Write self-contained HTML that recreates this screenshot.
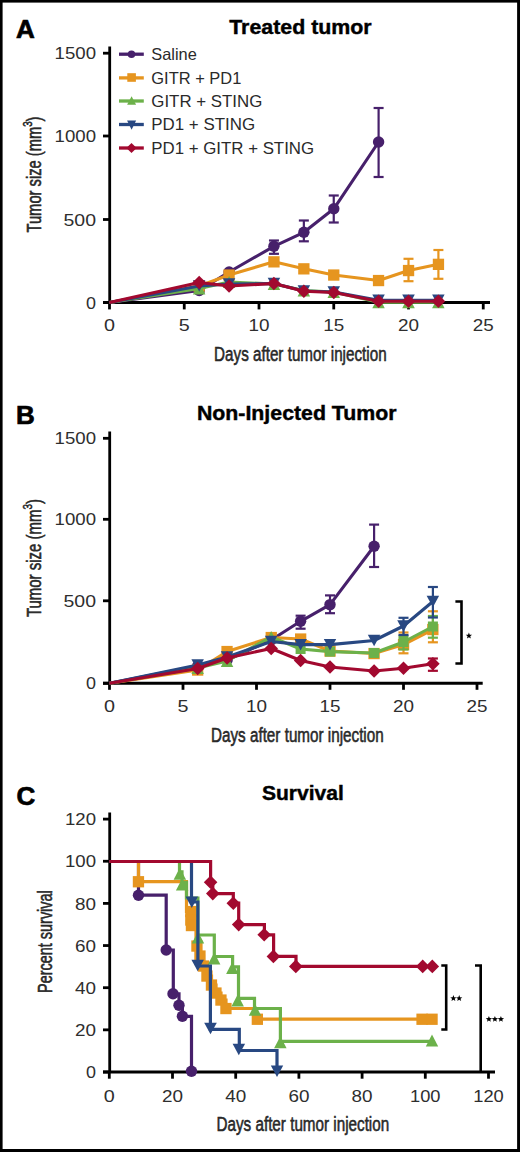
<!DOCTYPE html>
<html><head><meta charset="utf-8"><style>
html,body{margin:0;padding:0;background:#fff;}
svg{display:block;font-family:"Liberation Sans", sans-serif;}
</style></head><body>
<svg width="520" height="1152" viewBox="0 0 520 1152">
<rect x="0" y="0" width="520" height="1152" fill="#000"/>
<rect x="2.6" y="2.6" width="514.5" height="1146.4" fill="#fff"/>
<text x="16" y="37.6" font-size="26" text-anchor="start" font-weight="bold" fill="#000" stroke="#000" stroke-width="0.7">A</text>
<text x="229.2" y="34" font-size="19.5" text-anchor="start" font-weight="bold" fill="#000" textLength="142.5" lengthAdjust="spacingAndGlyphs" stroke="#000" stroke-width="0.4">Treated tumor</text>
<line x1="109.7" y1="46.5" x2="109.7" y2="303.5" stroke="#000" stroke-width="2.8"/>
<line x1="103" y1="302.5" x2="490" y2="302.5" stroke="#000" stroke-width="2.8"/>
<line x1="103" y1="53.2" x2="109.7" y2="53.2" stroke="#000" stroke-width="2.8"/>
<text x="96" y="59.300000000000004" font-size="17" text-anchor="end" font-weight="normal" fill="#2e2e2e" textLength="41.4" lengthAdjust="spacingAndGlyphs" >1500</text>
<line x1="103" y1="136" x2="109.7" y2="136" stroke="#000" stroke-width="2.8"/>
<text x="96" y="142.1" font-size="17" text-anchor="end" font-weight="normal" fill="#2e2e2e" textLength="41.4" lengthAdjust="spacingAndGlyphs" >1000</text>
<line x1="103" y1="219.5" x2="109.7" y2="219.5" stroke="#000" stroke-width="2.8"/>
<text x="96" y="225.6" font-size="17" text-anchor="end" font-weight="normal" fill="#2e2e2e" textLength="32.5" lengthAdjust="spacingAndGlyphs" >500</text>
<line x1="103" y1="302.5" x2="109.7" y2="302.5" stroke="#000" stroke-width="2.8"/>
<text x="96" y="308.6" font-size="17" text-anchor="end" font-weight="normal" fill="#2e2e2e" textLength="10" lengthAdjust="spacingAndGlyphs" >0</text>
<line x1="109.5" y1="302.5" x2="109.5" y2="309.4" stroke="#000" stroke-width="2.8"/>
<text x="109.5" y="331.3" font-size="17" text-anchor="middle" font-weight="normal" fill="#2e2e2e" textLength="11" lengthAdjust="spacingAndGlyphs" >0</text>
<line x1="184.25" y1="302.5" x2="184.25" y2="309.4" stroke="#000" stroke-width="2.8"/>
<text x="184.25" y="331.3" font-size="17" text-anchor="middle" font-weight="normal" fill="#2e2e2e" textLength="11" lengthAdjust="spacingAndGlyphs" >5</text>
<line x1="259.0" y1="302.5" x2="259.0" y2="309.4" stroke="#000" stroke-width="2.8"/>
<text x="259.0" y="331.3" font-size="17" text-anchor="middle" font-weight="normal" fill="#2e2e2e" textLength="21" lengthAdjust="spacingAndGlyphs" >10</text>
<line x1="333.75" y1="302.5" x2="333.75" y2="309.4" stroke="#000" stroke-width="2.8"/>
<text x="333.75" y="331.3" font-size="17" text-anchor="middle" font-weight="normal" fill="#2e2e2e" textLength="21" lengthAdjust="spacingAndGlyphs" >15</text>
<line x1="408.5" y1="302.5" x2="408.5" y2="309.4" stroke="#000" stroke-width="2.8"/>
<text x="408.5" y="331.3" font-size="17" text-anchor="middle" font-weight="normal" fill="#2e2e2e" textLength="21" lengthAdjust="spacingAndGlyphs" >20</text>
<line x1="483.25" y1="302.5" x2="483.25" y2="309.4" stroke="#000" stroke-width="2.8"/>
<text x="483.25" y="331.3" font-size="17" text-anchor="middle" font-weight="normal" fill="#2e2e2e" textLength="21" lengthAdjust="spacingAndGlyphs" >25</text>
<text x="214.1" y="360.6" font-size="20" text-anchor="start" font-weight="normal" fill="#2e2e2e" textLength="172.5" lengthAdjust="spacingAndGlyphs" stroke="#1c1c1c" stroke-width="0.55">Days after tumor injection</text>
<g transform="translate(41.4,232.5) rotate(-90)">
<text x="0" y="0" font-size="20.5" text-anchor="start" font-weight="normal" fill="#2e2e2e" textLength="116" lengthAdjust="spacingAndGlyphs" stroke="#1c1c1c" stroke-width="0.55">Tumor size (mm<tspan dy="-9" font-size="13.5">3</tspan><tspan dy="9">)</tspan></text>
</g>
<line x1="119" y1="54.2" x2="143.8" y2="54.2" stroke="#47206b" stroke-width="3.3"/>
<circle cx="131.5" cy="54.2" r="3.8" fill="#47206b"/>
<text x="151.3" y="60.1" font-size="16.5" text-anchor="start" font-weight="normal" fill="#2a2a2a" textLength="45.5" lengthAdjust="spacingAndGlyphs" >Saline</text>
<line x1="119" y1="77.9" x2="143.8" y2="77.9" stroke="#e6951f" stroke-width="3.3"/>
<rect x="127.3" y="73.2" width="8.6" height="8.6" fill="#e6951f"/>
<text x="151.3" y="83.80000000000001" font-size="16.5" text-anchor="start" font-weight="normal" fill="#2a2a2a" textLength="90" lengthAdjust="spacingAndGlyphs" >GITR + PD1</text>
<line x1="119" y1="101" x2="143.8" y2="101" stroke="#6cb14a" stroke-width="3.3"/>
<polygon points="127.1,104.7 136.1,104.7 131.6,96.2" fill="#6cb14a"/>
<text x="151.3" y="106.9" font-size="16.5" text-anchor="start" font-weight="normal" fill="#2a2a2a" textLength="111" lengthAdjust="spacingAndGlyphs" >GITR + STING</text>
<line x1="119" y1="124.5" x2="143.8" y2="124.5" stroke="#284882" stroke-width="3.3"/>
<polygon points="127.1,120.4 136.1,120.4 131.6,129.8" fill="#284882"/>
<text x="151.3" y="130.4" font-size="16.5" text-anchor="start" font-weight="normal" fill="#2a2a2a" textLength="103.8" lengthAdjust="spacingAndGlyphs" >PD1 + STING</text>
<line x1="119" y1="148" x2="143.8" y2="148" stroke="#a2092f" stroke-width="3.3"/>
<polygon points="131.5,142.9 136.6,148.0 131.5,153.1 126.4,148.0" fill="#a2092f"/>
<text x="151.3" y="153.9" font-size="16.5" text-anchor="start" font-weight="normal" fill="#2a2a2a" textLength="162.8" lengthAdjust="spacingAndGlyphs" >PD1 + GITR + STING</text>
<line x1="273.95" y1="240.5" x2="273.95" y2="253.8" stroke="#47206b" stroke-width="2.2"/>
<line x1="268.95" y1="240.5" x2="278.95" y2="240.5" stroke="#47206b" stroke-width="2.2"/>
<line x1="268.95" y1="253.8" x2="278.95" y2="253.8" stroke="#47206b" stroke-width="2.2"/>
<line x1="303.85" y1="220.5" x2="303.85" y2="241.3" stroke="#47206b" stroke-width="2.2"/>
<line x1="298.85" y1="220.5" x2="308.85" y2="220.5" stroke="#47206b" stroke-width="2.2"/>
<line x1="298.85" y1="241.3" x2="308.85" y2="241.3" stroke="#47206b" stroke-width="2.2"/>
<line x1="333.75" y1="195.5" x2="333.75" y2="222.5" stroke="#47206b" stroke-width="2.2"/>
<line x1="328.75" y1="195.5" x2="338.75" y2="195.5" stroke="#47206b" stroke-width="2.2"/>
<line x1="328.75" y1="222.5" x2="338.75" y2="222.5" stroke="#47206b" stroke-width="2.2"/>
<line x1="378.59999999999997" y1="108" x2="378.59999999999997" y2="177" stroke="#47206b" stroke-width="2.2"/>
<line x1="373.59999999999997" y1="108" x2="383.59999999999997" y2="108" stroke="#47206b" stroke-width="2.2"/>
<line x1="373.59999999999997" y1="177" x2="383.59999999999997" y2="177" stroke="#47206b" stroke-width="2.2"/>
<polyline points="109.5,302.5 199.2,290.5 229.1,272.0 273.9,246.3 303.9,232.3 333.8,208.8 378.6,142.0" fill="none" stroke="#47206b" stroke-width="3.1" stroke-linejoin="round"/>
<circle cx="199.2" cy="290.5" r="5.7" fill="#47206b"/>
<circle cx="229.1" cy="272.0" r="5.7" fill="#47206b"/>
<circle cx="273.9" cy="246.3" r="5.7" fill="#47206b"/>
<circle cx="303.9" cy="232.3" r="5.7" fill="#47206b"/>
<circle cx="333.8" cy="208.8" r="5.7" fill="#47206b"/>
<circle cx="378.6" cy="142.0" r="5.7" fill="#47206b"/>
<line x1="408.5" y1="258.8" x2="408.5" y2="281.2" stroke="#e6951f" stroke-width="2.2"/>
<line x1="403.5" y1="258.8" x2="413.5" y2="258.8" stroke="#e6951f" stroke-width="2.2"/>
<line x1="403.5" y1="281.2" x2="413.5" y2="281.2" stroke="#e6951f" stroke-width="2.2"/>
<line x1="438.4" y1="250" x2="438.4" y2="278.8" stroke="#e6951f" stroke-width="2.2"/>
<line x1="433.4" y1="250" x2="443.4" y2="250" stroke="#e6951f" stroke-width="2.2"/>
<line x1="433.4" y1="278.8" x2="443.4" y2="278.8" stroke="#e6951f" stroke-width="2.2"/>
<polyline points="109.5,302.5 199.2,286.0 229.1,275.0 273.9,261.8 303.9,268.8 333.8,275.0 378.6,280.5 408.5,270.5 438.4,264.3" fill="none" stroke="#e6951f" stroke-width="3.1" stroke-linejoin="round"/>
<rect x="193.5" y="280.4" width="11.3" height="11.3" fill="#e6951f"/>
<rect x="223.4" y="269.4" width="11.3" height="11.3" fill="#e6951f"/>
<rect x="268.3" y="256.2" width="11.3" height="11.3" fill="#e6951f"/>
<rect x="298.2" y="263.2" width="11.3" height="11.3" fill="#e6951f"/>
<rect x="328.1" y="269.4" width="11.3" height="11.3" fill="#e6951f"/>
<rect x="372.9" y="274.9" width="11.3" height="11.3" fill="#e6951f"/>
<rect x="402.9" y="264.9" width="11.3" height="11.3" fill="#e6951f"/>
<rect x="432.8" y="258.7" width="11.3" height="11.3" fill="#e6951f"/>
<polyline points="109.5,302.5 199.2,288.5 229.1,282.0 273.9,284.0 303.9,290.5 333.8,292.0 378.6,302.3 408.5,302.3 438.4,302.3" fill="none" stroke="#6cb14a" stroke-width="3.1" stroke-linejoin="round"/>
<polygon points="192.9,294.5 205.4,294.5 199.2,282.5" fill="#6cb14a"/>
<polygon points="222.8,288.0 235.3,288.0 229.1,276.0" fill="#6cb14a"/>
<polygon points="267.7,290.0 280.2,290.0 273.9,278.0" fill="#6cb14a"/>
<polygon points="297.6,296.5 310.1,296.5 303.9,284.5" fill="#6cb14a"/>
<polygon points="327.5,298.0 340.0,298.0 333.8,286.0" fill="#6cb14a"/>
<polygon points="372.3,308.3 384.8,308.3 378.6,296.3" fill="#6cb14a"/>
<polygon points="402.2,308.3 414.8,308.3 408.5,296.3" fill="#6cb14a"/>
<polygon points="432.1,308.3 444.6,308.3 438.4,296.3" fill="#6cb14a"/>
<polyline points="109.5,302.5 199.2,286.0 229.1,284.0 273.9,283.5 303.9,291.0 333.8,292.0 378.6,300.3 408.5,300.3 438.4,300.3" fill="none" stroke="#284882" stroke-width="3.1" stroke-linejoin="round"/>
<polygon points="192.9,280.2 205.4,280.2 199.2,291.8" fill="#284882"/>
<polygon points="222.8,278.2 235.3,278.2 229.1,289.8" fill="#284882"/>
<polygon points="267.7,277.8 280.2,277.8 273.9,289.2" fill="#284882"/>
<polygon points="297.6,285.2 310.1,285.2 303.9,296.8" fill="#284882"/>
<polygon points="327.5,286.2 340.0,286.2 333.8,297.8" fill="#284882"/>
<polygon points="372.3,294.6 384.8,294.6 378.6,306.1" fill="#284882"/>
<polygon points="402.2,294.6 414.8,294.6 408.5,306.1" fill="#284882"/>
<polygon points="432.1,294.6 444.6,294.6 438.4,306.1" fill="#284882"/>
<polyline points="109.5,302.5 199.2,282.5 229.1,286.0 273.9,283.5 303.9,291.3 333.8,292.5 378.6,301.3 408.5,301.3 438.4,301.3" fill="none" stroke="#a2092f" stroke-width="3.1" stroke-linejoin="round"/>
<polygon points="199.2,275.7 206.0,282.5 199.2,289.3 192.4,282.5" fill="#a2092f"/>
<polygon points="229.1,279.2 235.9,286.0 229.1,292.8 222.3,286.0" fill="#a2092f"/>
<polygon points="273.9,276.7 280.8,283.5 273.9,290.3 267.1,283.5" fill="#a2092f"/>
<polygon points="303.9,284.5 310.7,291.3 303.9,298.1 297.1,291.3" fill="#a2092f"/>
<polygon points="333.8,285.7 340.6,292.5 333.8,299.3 326.9,292.5" fill="#a2092f"/>
<polygon points="378.6,294.5 385.4,301.3 378.6,308.1 371.8,301.3" fill="#a2092f"/>
<polygon points="408.5,294.5 415.3,301.3 408.5,308.1 401.7,301.3" fill="#a2092f"/>
<polygon points="438.4,294.5 445.2,301.3 438.4,308.1 431.6,301.3" fill="#a2092f"/>
<text x="15.9" y="423.6" font-size="26" text-anchor="start" font-weight="bold" fill="#000" stroke="#000" stroke-width="0.7">B</text>
<text x="196.9" y="420.4" font-size="19.5" text-anchor="start" font-weight="bold" fill="#000" textLength="199.7" lengthAdjust="spacingAndGlyphs" stroke="#000" stroke-width="0.4">Non-Injected Tumor</text>
<line x1="109.7" y1="431.5" x2="109.7" y2="684.3" stroke="#000" stroke-width="2.8"/>
<line x1="103" y1="683.25" x2="482.7" y2="683.25" stroke="#000" stroke-width="2.8"/>
<line x1="103" y1="438.3" x2="109.7" y2="438.3" stroke="#000" stroke-width="2.8"/>
<text x="96" y="444.40000000000003" font-size="17" text-anchor="end" font-weight="normal" fill="#2e2e2e" textLength="41.4" lengthAdjust="spacingAndGlyphs" >1500</text>
<line x1="103" y1="519.3" x2="109.7" y2="519.3" stroke="#000" stroke-width="2.8"/>
<text x="96" y="525.4" font-size="17" text-anchor="end" font-weight="normal" fill="#2e2e2e" textLength="41.4" lengthAdjust="spacingAndGlyphs" >1000</text>
<line x1="103" y1="600.8" x2="109.7" y2="600.8" stroke="#000" stroke-width="2.8"/>
<text x="96" y="606.9" font-size="17" text-anchor="end" font-weight="normal" fill="#2e2e2e" textLength="32.5" lengthAdjust="spacingAndGlyphs" >500</text>
<line x1="103" y1="683.25" x2="109.7" y2="683.25" stroke="#000" stroke-width="2.8"/>
<text x="96" y="689.35" font-size="17" text-anchor="end" font-weight="normal" fill="#2e2e2e" textLength="10" lengthAdjust="spacingAndGlyphs" >0</text>
<line x1="109.5" y1="683.25" x2="109.5" y2="689.8" stroke="#000" stroke-width="2.8"/>
<text x="109.5" y="712.1" font-size="17" text-anchor="middle" font-weight="normal" fill="#2e2e2e" textLength="11" lengthAdjust="spacingAndGlyphs" >0</text>
<line x1="183.0" y1="683.25" x2="183.0" y2="689.8" stroke="#000" stroke-width="2.8"/>
<text x="183.0" y="712.1" font-size="17" text-anchor="middle" font-weight="normal" fill="#2e2e2e" textLength="11" lengthAdjust="spacingAndGlyphs" >5</text>
<line x1="256.5" y1="683.25" x2="256.5" y2="689.8" stroke="#000" stroke-width="2.8"/>
<text x="256.5" y="712.1" font-size="17" text-anchor="middle" font-weight="normal" fill="#2e2e2e" textLength="21" lengthAdjust="spacingAndGlyphs" >10</text>
<line x1="330.0" y1="683.25" x2="330.0" y2="689.8" stroke="#000" stroke-width="2.8"/>
<text x="330.0" y="712.1" font-size="17" text-anchor="middle" font-weight="normal" fill="#2e2e2e" textLength="21" lengthAdjust="spacingAndGlyphs" >15</text>
<line x1="403.5" y1="683.25" x2="403.5" y2="689.8" stroke="#000" stroke-width="2.8"/>
<text x="403.5" y="712.1" font-size="17" text-anchor="middle" font-weight="normal" fill="#2e2e2e" textLength="21" lengthAdjust="spacingAndGlyphs" >20</text>
<line x1="477.0" y1="683.25" x2="477.0" y2="689.8" stroke="#000" stroke-width="2.8"/>
<text x="477.0" y="712.1" font-size="17" text-anchor="middle" font-weight="normal" fill="#2e2e2e" textLength="21" lengthAdjust="spacingAndGlyphs" >25</text>
<text x="211" y="742" font-size="20" text-anchor="start" font-weight="normal" fill="#2e2e2e" textLength="172.7" lengthAdjust="spacingAndGlyphs" stroke="#1c1c1c" stroke-width="0.55">Days after tumor injection</text>
<g transform="translate(41.4,617.1) rotate(-90)">
<text x="0" y="0" font-size="20.5" text-anchor="start" font-weight="normal" fill="#2e2e2e" textLength="118" lengthAdjust="spacingAndGlyphs" stroke="#1c1c1c" stroke-width="0.55">Tumor size (mm<tspan dy="-9" font-size="13.5">3</tspan><tspan dy="9">)</tspan></text>
</g>
<line x1="300.6" y1="615.7" x2="300.6" y2="628.7" stroke="#47206b" stroke-width="2.2"/>
<line x1="295.6" y1="615.7" x2="305.6" y2="615.7" stroke="#47206b" stroke-width="2.2"/>
<line x1="295.6" y1="628.7" x2="305.6" y2="628.7" stroke="#47206b" stroke-width="2.2"/>
<line x1="330.0" y1="595.4" x2="330.0" y2="613.2" stroke="#47206b" stroke-width="2.2"/>
<line x1="325.0" y1="595.4" x2="335.0" y2="595.4" stroke="#47206b" stroke-width="2.2"/>
<line x1="325.0" y1="613.2" x2="335.0" y2="613.2" stroke="#47206b" stroke-width="2.2"/>
<line x1="374.09999999999997" y1="524.6" x2="374.09999999999997" y2="567" stroke="#47206b" stroke-width="2.2"/>
<line x1="369.09999999999997" y1="524.6" x2="379.09999999999997" y2="524.6" stroke="#47206b" stroke-width="2.2"/>
<line x1="369.09999999999997" y1="567" x2="379.09999999999997" y2="567" stroke="#47206b" stroke-width="2.2"/>
<polyline points="109.5,683.2 197.7,666.0 227.1,660.0 271.2,640.0 300.6,621.3 330.0,604.6 374.1,546.2" fill="none" stroke="#47206b" stroke-width="3.1" stroke-linejoin="round"/>
<circle cx="197.7" cy="666.0" r="5.7" fill="#47206b"/>
<circle cx="227.1" cy="660.0" r="5.7" fill="#47206b"/>
<circle cx="271.2" cy="640.0" r="5.7" fill="#47206b"/>
<circle cx="300.6" cy="621.3" r="5.7" fill="#47206b"/>
<circle cx="330.0" cy="604.6" r="5.7" fill="#47206b"/>
<circle cx="374.1" cy="546.2" r="5.7" fill="#47206b"/>
<line x1="403.5" y1="632.5" x2="403.5" y2="653.3" stroke="#e6951f" stroke-width="2.2"/>
<line x1="398.5" y1="632.5" x2="408.5" y2="632.5" stroke="#e6951f" stroke-width="2.2"/>
<line x1="398.5" y1="653.3" x2="408.5" y2="653.3" stroke="#e6951f" stroke-width="2.2"/>
<line x1="432.9" y1="611.3" x2="432.9" y2="642.3" stroke="#e6951f" stroke-width="2.2"/>
<line x1="427.9" y1="611.3" x2="437.9" y2="611.3" stroke="#e6951f" stroke-width="2.2"/>
<line x1="427.9" y1="642.3" x2="437.9" y2="642.3" stroke="#e6951f" stroke-width="2.2"/>
<polyline points="109.5,683.2 197.7,670.0 227.1,651.5 271.2,637.5 300.6,639.0 330.0,651.0 374.1,653.5 403.5,644.5 432.9,629.5" fill="none" stroke="#e6951f" stroke-width="3.1" stroke-linejoin="round"/>
<rect x="192.0" y="664.4" width="11.3" height="11.3" fill="#e6951f"/>
<rect x="221.4" y="645.9" width="11.3" height="11.3" fill="#e6951f"/>
<rect x="265.6" y="631.9" width="11.3" height="11.3" fill="#e6951f"/>
<rect x="295.0" y="633.4" width="11.3" height="11.3" fill="#e6951f"/>
<rect x="324.4" y="645.4" width="11.3" height="11.3" fill="#e6951f"/>
<rect x="368.4" y="647.9" width="11.3" height="11.3" fill="#e6951f"/>
<rect x="397.9" y="638.9" width="11.3" height="11.3" fill="#e6951f"/>
<rect x="427.2" y="623.9" width="11.3" height="11.3" fill="#e6951f"/>
<line x1="403.5" y1="636" x2="403.5" y2="649.5" stroke="#6cb14a" stroke-width="2.2"/>
<line x1="398.5" y1="636" x2="408.5" y2="636" stroke="#6cb14a" stroke-width="2.2"/>
<line x1="398.5" y1="649.5" x2="408.5" y2="649.5" stroke="#6cb14a" stroke-width="2.2"/>
<line x1="432.9" y1="616" x2="432.9" y2="637.7" stroke="#6cb14a" stroke-width="2.2"/>
<line x1="427.9" y1="616" x2="437.9" y2="616" stroke="#6cb14a" stroke-width="2.2"/>
<line x1="427.9" y1="637.7" x2="437.9" y2="637.7" stroke="#6cb14a" stroke-width="2.2"/>
<polyline points="109.5,683.2 197.7,668.0 227.1,661.0 271.2,637.0 300.6,649.0 330.0,651.6 374.1,653.0 403.5,642.0 432.9,626.5" fill="none" stroke="#6cb14a" stroke-width="3.1" stroke-linejoin="round"/>
<polygon points="191.4,674.0 203.9,674.0 197.7,662.0" fill="#6cb14a"/>
<polygon points="220.8,667.0 233.3,667.0 227.1,655.0" fill="#6cb14a"/>
<polygon points="264.9,643.0 277.4,643.0 271.2,631.0" fill="#6cb14a"/>
<rect x="295.6" y="644.0" width="10" height="10" fill="#6cb14a"/>
<rect x="325.0" y="646.6" width="10" height="10" fill="#6cb14a"/>
<rect x="369.1" y="648.0" width="10" height="10" fill="#6cb14a"/>
<rect x="398.5" y="637.0" width="10" height="10" fill="#6cb14a"/>
<rect x="427.9" y="621.5" width="10" height="10" fill="#6cb14a"/>
<line x1="403.5" y1="617.8" x2="403.5" y2="635" stroke="#284882" stroke-width="2.2"/>
<line x1="398.5" y1="617.8" x2="408.5" y2="617.8" stroke="#284882" stroke-width="2.2"/>
<line x1="398.5" y1="635" x2="408.5" y2="635" stroke="#284882" stroke-width="2.2"/>
<line x1="432.9" y1="587" x2="432.9" y2="617.5" stroke="#284882" stroke-width="2.2"/>
<line x1="427.9" y1="587" x2="437.9" y2="587" stroke="#284882" stroke-width="2.2"/>
<line x1="427.9" y1="617.5" x2="437.9" y2="617.5" stroke="#284882" stroke-width="2.2"/>
<polyline points="109.5,683.2 197.7,665.0 227.1,657.0 271.2,641.5 300.6,644.6 330.0,644.6 374.1,640.5 403.5,626.0 432.9,601.5" fill="none" stroke="#284882" stroke-width="3.1" stroke-linejoin="round"/>
<polygon points="191.4,659.2 203.9,659.2 197.7,670.8" fill="#284882"/>
<polygon points="220.8,651.2 233.3,651.2 227.1,662.8" fill="#284882"/>
<polygon points="264.9,635.8 277.4,635.8 271.2,647.2" fill="#284882"/>
<polygon points="294.4,638.9 306.9,638.9 300.6,650.4" fill="#284882"/>
<polygon points="323.8,638.9 336.2,638.9 330.0,650.4" fill="#284882"/>
<polygon points="367.8,634.8 380.3,634.8 374.1,646.2" fill="#284882"/>
<polygon points="397.2,620.2 409.8,620.2 403.5,631.8" fill="#284882"/>
<polygon points="426.6,595.8 439.1,595.8 432.9,607.2" fill="#284882"/>
<line x1="432.9" y1="658.5" x2="432.9" y2="670.8" stroke="#a2092f" stroke-width="2.2"/>
<line x1="427.9" y1="658.5" x2="437.9" y2="658.5" stroke="#a2092f" stroke-width="2.2"/>
<line x1="427.9" y1="670.8" x2="437.9" y2="670.8" stroke="#a2092f" stroke-width="2.2"/>
<polyline points="109.5,683.2 197.7,668.5 227.1,658.0 271.2,648.5 300.6,660.5 330.0,667.0 374.1,671.0 403.5,668.3 432.9,663.8" fill="none" stroke="#a2092f" stroke-width="3.1" stroke-linejoin="round"/>
<polygon points="197.7,661.7 204.5,668.5 197.7,675.3 190.9,668.5" fill="#a2092f"/>
<polygon points="227.1,651.2 233.9,658.0 227.1,664.8 220.3,658.0" fill="#a2092f"/>
<polygon points="271.2,641.7 278.0,648.5 271.2,655.3 264.4,648.5" fill="#a2092f"/>
<polygon points="300.6,653.7 307.4,660.5 300.6,667.3 293.8,660.5" fill="#a2092f"/>
<polygon points="330.0,660.2 336.8,667.0 330.0,673.8 323.2,667.0" fill="#a2092f"/>
<polygon points="374.1,664.2 380.9,671.0 374.1,677.8 367.3,671.0" fill="#a2092f"/>
<polygon points="403.5,661.5 410.3,668.3 403.5,675.1 396.7,668.3" fill="#a2092f"/>
<polygon points="432.9,657.0 439.7,663.8 432.9,670.6 426.1,663.8" fill="#a2092f"/>
<polyline points="455.4,601.5 461.5,601.5 461.5,663.5 455.4,663.5" fill="none" stroke="#000" stroke-width="2.6"/>
<polygon points="468.90,632.50 469.72,634.67 472.04,634.78 470.23,636.23 470.84,638.47 468.90,637.20 466.96,638.47 467.57,636.23 465.76,634.78 468.08,634.67" fill="#000"/>
<text x="16.5" y="805" font-size="26" text-anchor="start" font-weight="bold" fill="#000" stroke="#000" stroke-width="0.7">C</text>
<text x="261.9" y="799.8" font-size="19.5" text-anchor="start" font-weight="bold" fill="#000" textLength="82" lengthAdjust="spacingAndGlyphs" stroke="#000" stroke-width="0.4">Survival</text>
<line x1="109.7" y1="812.5" x2="109.7" y2="1073" stroke="#000" stroke-width="2.8"/>
<line x1="103" y1="1072" x2="495" y2="1072" stroke="#000" stroke-width="2.8"/>
<line x1="103" y1="1072.0" x2="109.7" y2="1072.0" stroke="#000" stroke-width="2.8"/>
<text x="96" y="1078.1" font-size="17" text-anchor="end" font-weight="normal" fill="#2e2e2e" textLength="10" lengthAdjust="spacingAndGlyphs" >0</text>
<line x1="103" y1="1029.85" x2="109.7" y2="1029.85" stroke="#000" stroke-width="2.8"/>
<text x="96" y="1035.9499999999998" font-size="17" text-anchor="end" font-weight="normal" fill="#2e2e2e" textLength="21" lengthAdjust="spacingAndGlyphs" >20</text>
<line x1="103" y1="987.7" x2="109.7" y2="987.7" stroke="#000" stroke-width="2.8"/>
<text x="96" y="993.8000000000001" font-size="17" text-anchor="end" font-weight="normal" fill="#2e2e2e" textLength="21" lengthAdjust="spacingAndGlyphs" >40</text>
<line x1="103" y1="945.55" x2="109.7" y2="945.55" stroke="#000" stroke-width="2.8"/>
<text x="96" y="951.65" font-size="17" text-anchor="end" font-weight="normal" fill="#2e2e2e" textLength="21" lengthAdjust="spacingAndGlyphs" >60</text>
<line x1="103" y1="903.4" x2="109.7" y2="903.4" stroke="#000" stroke-width="2.8"/>
<text x="96" y="909.5" font-size="17" text-anchor="end" font-weight="normal" fill="#2e2e2e" textLength="21" lengthAdjust="spacingAndGlyphs" >80</text>
<line x1="103" y1="861.25" x2="109.7" y2="861.25" stroke="#000" stroke-width="2.8"/>
<text x="96" y="867.35" font-size="17" text-anchor="end" font-weight="normal" fill="#2e2e2e" textLength="31" lengthAdjust="spacingAndGlyphs" >100</text>
<line x1="103" y1="819.1" x2="109.7" y2="819.1" stroke="#000" stroke-width="2.8"/>
<text x="96" y="825.2" font-size="17" text-anchor="end" font-weight="normal" fill="#2e2e2e" textLength="31" lengthAdjust="spacingAndGlyphs" >120</text>
<line x1="109.3" y1="1072" x2="109.3" y2="1078.7" stroke="#000" stroke-width="2.8"/>
<text x="109.3" y="1101.6" font-size="17" text-anchor="middle" font-weight="normal" fill="#2e2e2e" textLength="11" lengthAdjust="spacingAndGlyphs" >0</text>
<line x1="172.5" y1="1072" x2="172.5" y2="1078.7" stroke="#000" stroke-width="2.8"/>
<text x="172.5" y="1101.6" font-size="17" text-anchor="middle" font-weight="normal" fill="#2e2e2e" textLength="21" lengthAdjust="spacingAndGlyphs" >20</text>
<line x1="235.7" y1="1072" x2="235.7" y2="1078.7" stroke="#000" stroke-width="2.8"/>
<text x="235.7" y="1101.6" font-size="17" text-anchor="middle" font-weight="normal" fill="#2e2e2e" textLength="21" lengthAdjust="spacingAndGlyphs" >40</text>
<line x1="298.90000000000003" y1="1072" x2="298.90000000000003" y2="1078.7" stroke="#000" stroke-width="2.8"/>
<text x="298.90000000000003" y="1101.6" font-size="17" text-anchor="middle" font-weight="normal" fill="#2e2e2e" textLength="21" lengthAdjust="spacingAndGlyphs" >60</text>
<line x1="362.1" y1="1072" x2="362.1" y2="1078.7" stroke="#000" stroke-width="2.8"/>
<text x="362.1" y="1101.6" font-size="17" text-anchor="middle" font-weight="normal" fill="#2e2e2e" textLength="21" lengthAdjust="spacingAndGlyphs" >80</text>
<line x1="425.3" y1="1072" x2="425.3" y2="1078.7" stroke="#000" stroke-width="2.8"/>
<text x="425.3" y="1101.6" font-size="17" text-anchor="middle" font-weight="normal" fill="#2e2e2e" textLength="30.5" lengthAdjust="spacingAndGlyphs" >100</text>
<line x1="488.50000000000006" y1="1072" x2="488.50000000000006" y2="1078.7" stroke="#000" stroke-width="2.8"/>
<text x="488.50000000000006" y="1101.6" font-size="17" text-anchor="middle" font-weight="normal" fill="#2e2e2e" textLength="30.5" lengthAdjust="spacingAndGlyphs" >120</text>
<text x="216.5" y="1130.8" font-size="20" text-anchor="start" font-weight="normal" fill="#2e2e2e" textLength="172.7" lengthAdjust="spacingAndGlyphs" stroke="#1c1c1c" stroke-width="0.55">Days after tumor injection</text>
<g transform="translate(51.9,993) rotate(-90)">
<text x="0" y="0" font-size="20.5" text-anchor="start" font-weight="normal" fill="#2e2e2e" textLength="102.8" lengthAdjust="spacingAndGlyphs" stroke="#1c1c1c" stroke-width="0.55">Percent survival</text>
</g>
<polyline points="109.3,861.5 138.5,861.5 138.5,895.2 166.2,895.2 166.2,950.0 173.3,950.0 173.3,993.8 179.0,993.8 179.0,1005.3 182.4,1005.3 182.4,1016.3 191.5,1016.3 191.5,1071.2" fill="none" stroke="#47206b" stroke-width="3.2" stroke-linejoin="miter"/>
<circle cx="138.5" cy="895.2" r="5.7" fill="#47206b"/>
<circle cx="166.2" cy="950.0" r="5.7" fill="#47206b"/>
<circle cx="173.0" cy="993.8" r="5.7" fill="#47206b"/>
<circle cx="179.0" cy="1005.3" r="5.7" fill="#47206b"/>
<circle cx="182.4" cy="1016.3" r="5.7" fill="#47206b"/>
<circle cx="191.5" cy="1071.2" r="5.7" fill="#47206b"/>
<polyline points="109.3,861.5 138.5,861.5 138.5,881.7 186.5,881.7 186.5,911.5 190.8,911.5 190.8,924.0 196.0,924.0 196.0,946.0 200.0,946.0 200.0,956.0 203.5,956.0 203.5,966.0 207.0,966.0 207.0,976.0 211.5,976.0 211.5,985.0 216.0,985.0 216.0,993.0 221.0,993.0 221.0,1000.0 226.0,1000.0 226.0,1008.5 255.0,1008.5 255.0,1019.2 422.0,1019.2 422.0,1019.2 432.0,1019.2 432.0,1019.2" fill="none" stroke="#e6951f" stroke-width="3.2" stroke-linejoin="miter"/>
<rect x="132.8" y="876.1" width="11.3" height="11.3" fill="#e6951f"/>
<rect x="185.2" y="905.9" width="11.3" height="11.3" fill="#e6951f"/>
<rect x="185.2" y="914.4" width="11.3" height="11.3" fill="#e6951f"/>
<rect x="185.8" y="919.9" width="11.3" height="11.3" fill="#e6951f"/>
<rect x="191.3" y="940.4" width="11.3" height="11.3" fill="#e6951f"/>
<rect x="194.3" y="950.4" width="11.3" height="11.3" fill="#e6951f"/>
<rect x="197.8" y="960.4" width="11.3" height="11.3" fill="#e6951f"/>
<rect x="201.3" y="970.4" width="11.3" height="11.3" fill="#e6951f"/>
<rect x="205.8" y="979.4" width="11.3" height="11.3" fill="#e6951f"/>
<rect x="210.3" y="987.4" width="11.3" height="11.3" fill="#e6951f"/>
<rect x="215.3" y="994.4" width="11.3" height="11.3" fill="#e6951f"/>
<rect x="220.3" y="1002.9" width="11.3" height="11.3" fill="#e6951f"/>
<rect x="251.7" y="1013.6" width="11.3" height="11.3" fill="#e6951f"/>
<rect x="416.4" y="1013.6" width="11.3" height="11.3" fill="#e6951f"/>
<rect x="426.4" y="1013.6" width="11.3" height="11.3" fill="#e6951f"/>
<polyline points="109.3,861.5 179.5,861.5 179.5,871.8 182.0,871.8 182.0,882.3 186.5,882.3 186.5,898.0 197.9,898.0 197.9,935.0 214.3,935.0 214.3,956.5 232.6,956.5 232.6,966.8 238.5,966.8 238.5,998.3 254.5,998.3 254.5,1008.5 280.4,1008.5 280.4,1041.3 432.0,1041.3 432.0,1041.3" fill="none" stroke="#6cb14a" stroke-width="3.2" stroke-linejoin="miter"/>
<polygon points="173.6,879.8 186.1,879.8 179.8,867.8" fill="#6cb14a"/>
<polygon points="175.9,890.4 188.4,890.4 182.2,878.4" fill="#6cb14a"/>
<polygon points="191.8,943.5 204.2,943.5 198.0,931.5" fill="#6cb14a"/>
<polygon points="207.9,964.5 220.4,964.5 214.2,952.5" fill="#6cb14a"/>
<polygon points="226.1,974.0 238.6,974.0 232.3,962.0" fill="#6cb14a"/>
<polygon points="231.4,1006.5 243.9,1006.5 237.7,994.5" fill="#6cb14a"/>
<polygon points="248.8,1015.8 261.2,1015.8 255.0,1003.8" fill="#6cb14a"/>
<polygon points="274.1,1048.3 286.6,1048.3 280.4,1036.3" fill="#6cb14a"/>
<polygon points="425.8,1046.6 438.2,1046.6 432.0,1034.6" fill="#6cb14a"/>
<polyline points="109.3,861.5 191.5,861.5 191.5,902.0 197.9,902.0 197.9,966.0 210.4,966.0 210.4,1029.3 239.3,1029.3 239.3,1050.5 277.0,1050.5 277.0,1071.3" fill="none" stroke="#284882" stroke-width="3.2" stroke-linejoin="miter"/>
<polygon points="185.6,896.5 198.1,896.5 191.8,908.0" fill="#284882"/>
<polygon points="191.4,959.8 203.9,959.8 197.7,971.2" fill="#284882"/>
<polygon points="204.2,1022.8 216.8,1022.8 210.5,1034.2" fill="#284882"/>
<polygon points="232.6,1043.8 245.1,1043.8 238.8,1055.2" fill="#284882"/>
<polygon points="270.8,1065.5 283.2,1065.5 277.0,1077.0" fill="#284882"/>
<polyline points="109.3,861.5 210.6,861.5 210.6,882.3 212.8,882.3 212.8,893.6 233.3,893.6 233.3,903.2 238.7,903.2 238.7,924.6 264.4,924.6 264.4,934.8 273.6,934.8 273.6,956.3 296.0,956.3 296.0,966.4 422.7,966.4 422.7,966.4 432.3,966.4 432.3,966.4" fill="none" stroke="#a2092f" stroke-width="3.2" stroke-linejoin="miter"/>
<polygon points="210.6,875.5 217.4,882.3 210.6,889.1 203.8,882.3" fill="#a2092f"/>
<polygon points="212.8,886.8 219.6,893.6 212.8,900.4 206.0,893.6" fill="#a2092f"/>
<polygon points="233.3,896.4 240.1,903.2 233.3,910.0 226.5,903.2" fill="#a2092f"/>
<polygon points="238.7,917.8 245.5,924.6 238.7,931.4 231.9,924.6" fill="#a2092f"/>
<polygon points="264.2,928.0 271.0,934.8 264.2,941.6 257.4,934.8" fill="#a2092f"/>
<polygon points="273.4,949.6 280.2,956.4 273.4,963.2 266.6,956.4" fill="#a2092f"/>
<polygon points="295.8,959.6 302.6,966.4 295.8,973.2 289.0,966.4" fill="#a2092f"/>
<polygon points="422.7,959.6 429.5,966.4 422.7,973.2 415.9,966.4" fill="#a2092f"/>
<polygon points="432.3,959.6 439.1,966.4 432.3,973.2 425.5,966.4" fill="#a2092f"/>
<polyline points="441.3,965.5 446.2,965.5 446.2,1029.5 441.3,1029.5" fill="none" stroke="#000" stroke-width="2.6"/>
<polygon points="453.40,995.10 454.22,997.27 456.54,997.38 454.73,998.83 455.34,1001.07 453.40,999.80 451.46,1001.07 452.07,998.83 450.26,997.38 452.58,997.27" fill="#000"/>
<polygon points="459.20,995.10 460.02,997.27 462.34,997.38 460.53,998.83 461.14,1001.07 459.20,999.80 457.26,1001.07 457.87,998.83 456.06,997.38 458.38,997.27" fill="#000"/>
<polyline points="475,965.5 480.7,965.5 480.7,1072" fill="none" stroke="#000" stroke-width="2.6"/>
<polygon points="488.90,1015.90 489.72,1018.07 492.04,1018.18 490.23,1019.63 490.84,1021.87 488.90,1020.60 486.96,1021.87 487.57,1019.63 485.76,1018.18 488.08,1018.07" fill="#000"/>
<polygon points="494.90,1015.90 495.72,1018.07 498.04,1018.18 496.23,1019.63 496.84,1021.87 494.90,1020.60 492.96,1021.87 493.57,1019.63 491.76,1018.18 494.08,1018.07" fill="#000"/>
<polygon points="500.90,1015.90 501.72,1018.07 504.04,1018.18 502.23,1019.63 502.84,1021.87 500.90,1020.60 498.96,1021.87 499.57,1019.63 497.76,1018.18 500.08,1018.07" fill="#000"/>
</svg>
</body></html>
